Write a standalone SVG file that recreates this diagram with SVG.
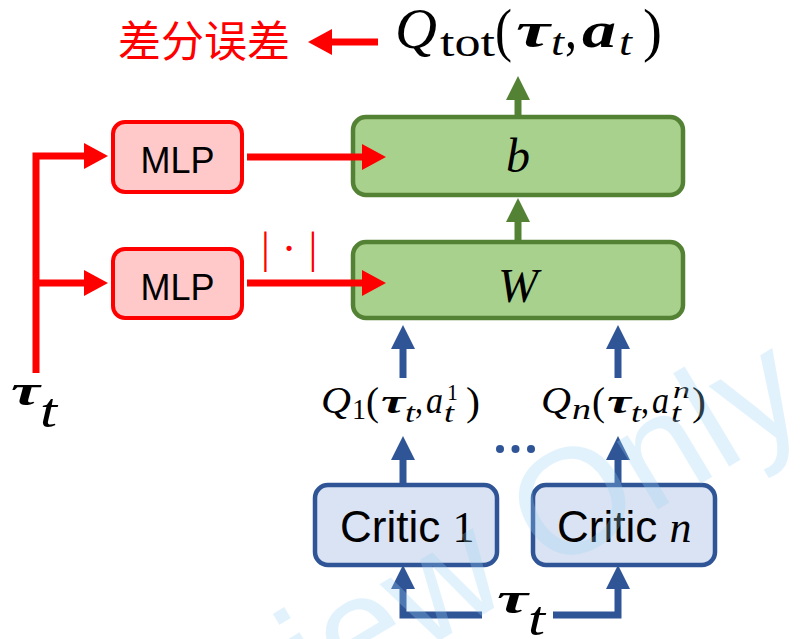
<svg xmlns="http://www.w3.org/2000/svg" width="810" height="639" viewBox="0 0 810 639">
  <style>
    text { font-family: "Liberation Serif", "DejaVu Serif", serif; fill: #000; }
    .it { font-style: italic; }
    .bi { font-style: italic; font-weight: bold; }
    .sans { font-family: "Liberation Sans", Arial, sans-serif; }
    .cjk { font-family: "Noto Sans CJK SC", sans-serif; }
    .red { fill: #FF0000; }
    .red-box { fill: #FFC9C9; stroke: #FF0000; stroke-width: 4; }
    .green-box { fill: #A9D18E; stroke: #548235; stroke-width: 4.5; }
    .blue-box { fill: #DAE3F3; stroke: #2F5597; stroke-width: 4.5; }
    .red-line { stroke: #FF0000; stroke-width: 7; fill: none; }
    .green-line { stroke: #548235; stroke-width: 7; fill: none; }
    .blue-line { stroke: #2F5597; stroke-width: 7; fill: none; }
    .overlay { font-family: "Liberation Sans", sans-serif; fill: #9BD3F5; }
  </style>
  <defs>
    <marker id="head-red" markerUnits="userSpaceOnUse" viewBox="0 0 24 26" refX="0" refY="13" markerWidth="24" markerHeight="26" orient="auto">
      <path d="M0,0 L24,13 L0,26 Z" fill="#FF0000"/>
    </marker>
    <marker id="head-green" markerUnits="userSpaceOnUse" viewBox="0 0 24 24" refX="0" refY="12" markerWidth="24" markerHeight="24" orient="auto">
      <path d="M0,0 L24,12 L0,24 Z" fill="#548235"/>
    </marker>
    <marker id="head-blue" markerUnits="userSpaceOnUse" viewBox="0 0 24 24" refX="0" refY="12" markerWidth="24" markerHeight="24" orient="auto">
      <path d="M0,0 L24,12 L0,24 Z" fill="#2F5597"/>
    </marker>
  </defs>
  <rect width="810" height="639" fill="#FFFFFF"/>

  <!-- loss label -->
  <g id="loss">
    <text class="cjk red" x="118" y="57" font-size="43">差分误差</text>
  </g>

  <!-- total value Q_tot(tau_t, a_t) -->
  <g id="qtot">
    <text class="it" x="395" y="48" font-size="56" textLength="42" lengthAdjust="spacingAndGlyphs">Q</text>
    <text x="440" y="56" font-size="40" textLength="55" lengthAdjust="spacingAndGlyphs">tot</text>
    <text x="495" y="50" font-size="60" textLength="17" lengthAdjust="spacingAndGlyphs">(</text>
    <text class="bi" x="516" y="47" font-size="50" textLength="34" lengthAdjust="spacingAndGlyphs">τ</text>
    <text class="it" x="551" y="55" font-size="38" textLength="13" lengthAdjust="spacingAndGlyphs">t</text>
    <text x="565" y="48" font-size="56" textLength="12" lengthAdjust="spacingAndGlyphs">,</text>
    <text class="bi" x="582" y="47" font-size="50" textLength="34" lengthAdjust="spacingAndGlyphs">a</text>
    <text class="it" x="619" y="55" font-size="38" textLength="13" lengthAdjust="spacingAndGlyphs">t</text>
    <text x="643" y="50" font-size="60" textLength="19" lengthAdjust="spacingAndGlyphs">)</text>
  </g>

  <!-- hypernetwork MLPs -->
  <g id="mlp-b">
    <rect class="red-box" x="113" y="122" width="129" height="70" rx="12"/>
    <text class="sans" x="177.5" y="173" font-size="36" text-anchor="middle">MLP</text>
  </g>
  <g id="mlp-w">
    <rect class="red-box" x="113" y="249" width="129" height="69" rx="12"/>
    <text class="sans" x="177.5" y="300" font-size="36" text-anchor="middle">MLP</text>
  </g>
  <g id="abs-label">
    <text class="red" x="261" y="263" font-size="44" letter-spacing="12">|·|</text>
  </g>

  <!-- mixing blocks -->
  <g id="block-b">
    <rect class="green-box" x="353" y="117" width="330" height="78" rx="13"/>
    <text class="it" x="518" y="172" font-size="48" text-anchor="middle">b</text>
  </g>
  <g id="block-w">
    <rect class="green-box" x="353" y="242" width="330" height="76" rx="13"/>
    <text class="it" x="518" y="302" font-size="48" text-anchor="middle">W</text>
  </g>

  <!-- history input on the left -->
  <g id="tau-left">
    <text class="bi" x="11" y="405" font-size="44" textLength="29" lengthAdjust="spacingAndGlyphs">τ</text>
    <text class="it" x="40" y="427" font-size="48" textLength="17" lengthAdjust="spacingAndGlyphs">t</text>
  </g>

  <!-- per-agent values -->
  <g id="q1">
    <text class="it" x="321" y="413" font-size="38" textLength="30" lengthAdjust="spacingAndGlyphs">Q</text>
    <text x="352" y="419" font-size="30" textLength="14" lengthAdjust="spacingAndGlyphs">1</text>
    <text x="366" y="415" font-size="40" textLength="13" lengthAdjust="spacingAndGlyphs">(</text>
    <text class="bi" x="381" y="413" font-size="34" textLength="24" lengthAdjust="spacingAndGlyphs">τ</text>
    <text class="it" x="405" y="422" font-size="28" textLength="10" lengthAdjust="spacingAndGlyphs">t</text>
    <text x="415" y="413" font-size="38" textLength="8" lengthAdjust="spacingAndGlyphs">,</text>
    <text class="it" x="426" y="413" font-size="38" textLength="17" lengthAdjust="spacingAndGlyphs">a</text>
    <text class="it" x="444" y="422" font-size="28" textLength="10" lengthAdjust="spacingAndGlyphs">t</text>
    <text x="447" y="400" font-size="24" textLength="11" lengthAdjust="spacingAndGlyphs">1</text>
    <text x="466" y="415" font-size="40" textLength="14" lengthAdjust="spacingAndGlyphs">)</text>
  </g>
  <g id="qn">
    <text class="it" x="541" y="413" font-size="38" textLength="30" lengthAdjust="spacingAndGlyphs">Q</text>
    <text class="it" x="572" y="419" font-size="30" textLength="19" lengthAdjust="spacingAndGlyphs">n</text>
    <text x="592" y="415" font-size="40" textLength="13" lengthAdjust="spacingAndGlyphs">(</text>
    <text class="bi" x="607" y="413" font-size="34" textLength="24" lengthAdjust="spacingAndGlyphs">τ</text>
    <text class="it" x="631" y="422" font-size="28" textLength="10" lengthAdjust="spacingAndGlyphs">t</text>
    <text x="641" y="413" font-size="38" textLength="8" lengthAdjust="spacingAndGlyphs">,</text>
    <text class="it" x="652" y="413" font-size="38" textLength="17" lengthAdjust="spacingAndGlyphs">a</text>
    <text class="it" x="671" y="422" font-size="28" textLength="10" lengthAdjust="spacingAndGlyphs">t</text>
    <text class="it" x="673" y="398" font-size="24" textLength="17" lengthAdjust="spacingAndGlyphs">n</text>
    <text x="692" y="415" font-size="40" textLength="14" lengthAdjust="spacingAndGlyphs">)</text>
  </g>
  <g id="ellipsis" fill="#2F5597">
    <circle cx="500" cy="449" r="4"/>
    <circle cx="515.5" cy="449" r="4"/>
    <circle cx="531" cy="449" r="4"/>
  </g>

  <!-- critics -->
  <g id="critic-1">
    <rect class="blue-box" x="315" y="485" width="182" height="80" rx="13"/>
    <text x="340" y="542"><tspan class="sans" font-size="44">Critic </tspan><tspan font-size="44">1</tspan></text>
  </g>
  <g id="critic-n">
    <rect class="blue-box" x="533" y="485" width="182" height="80" rx="13"/>
    <text x="557" y="542"><tspan class="sans" font-size="44">Critic </tspan><tspan class="it" font-size="44">n</tspan></text>
  </g>

  <!-- shared input at the bottom -->
  <g id="tau-bottom">
    <text class="bi" x="497" y="613" font-size="44" textLength="31" lengthAdjust="spacingAndGlyphs">τ</text>
    <text class="it" x="528" y="635" font-size="48" textLength="17" lengthAdjust="spacingAndGlyphs">t</text>
  </g>

  <!-- connectors, drawn over the boxes so the heads stay visible -->
  <g id="connectors">
    <!-- loss arrow -->
    <path class="red-line" d="M378,42 L332,42" marker-end="url(#head-red)"/>
    <!-- tau_t trunk feeding both MLPs -->
    <path class="red-line" d="M36,373 L36,156 L84,156" marker-end="url(#head-red)"/>
    <path class="red-line" d="M36,283 L84,283" marker-end="url(#head-red)"/>
    <!-- MLP outputs into hypernetwork blocks -->
    <path class="red-line" d="M247,157 L362,157" marker-end="url(#head-red)"/>
    <path class="red-line" d="M247,283 L362,283" marker-end="url(#head-red)"/>
    <!-- mixing flow -->
    <path class="green-line" d="M518,117 L518,100" marker-end="url(#head-green)"/>
    <path class="green-line" d="M518,242 L518,222" marker-end="url(#head-green)"/>
    <!-- agent Q values into W -->
    <path class="blue-line" d="M403,378 L403,349" marker-end="url(#head-blue)"/>
    <path class="blue-line" d="M618,378 L618,349" marker-end="url(#head-blue)"/>
    <!-- critics to Q values -->
    <path class="blue-line" d="M403,485 L403,460" marker-end="url(#head-blue)"/>
    <path class="blue-line" d="M618,485 L618,460" marker-end="url(#head-blue)"/>
    <!-- tau_t into critics -->
    <path class="blue-line" d="M482,615 L403,615 L403,589" marker-end="url(#head-blue)"/>
    <path class="blue-line" d="M553,615 L618,615 L618,589" marker-end="url(#head-blue)"/>
  </g>

  <!-- faint overlay lettering -->
  <g id="overlay" opacity="0.28">
    <text class="overlay" x="56" y="871" transform="rotate(-31 56 871)" font-size="150">Preview Only</text>
  </g>
</svg>
